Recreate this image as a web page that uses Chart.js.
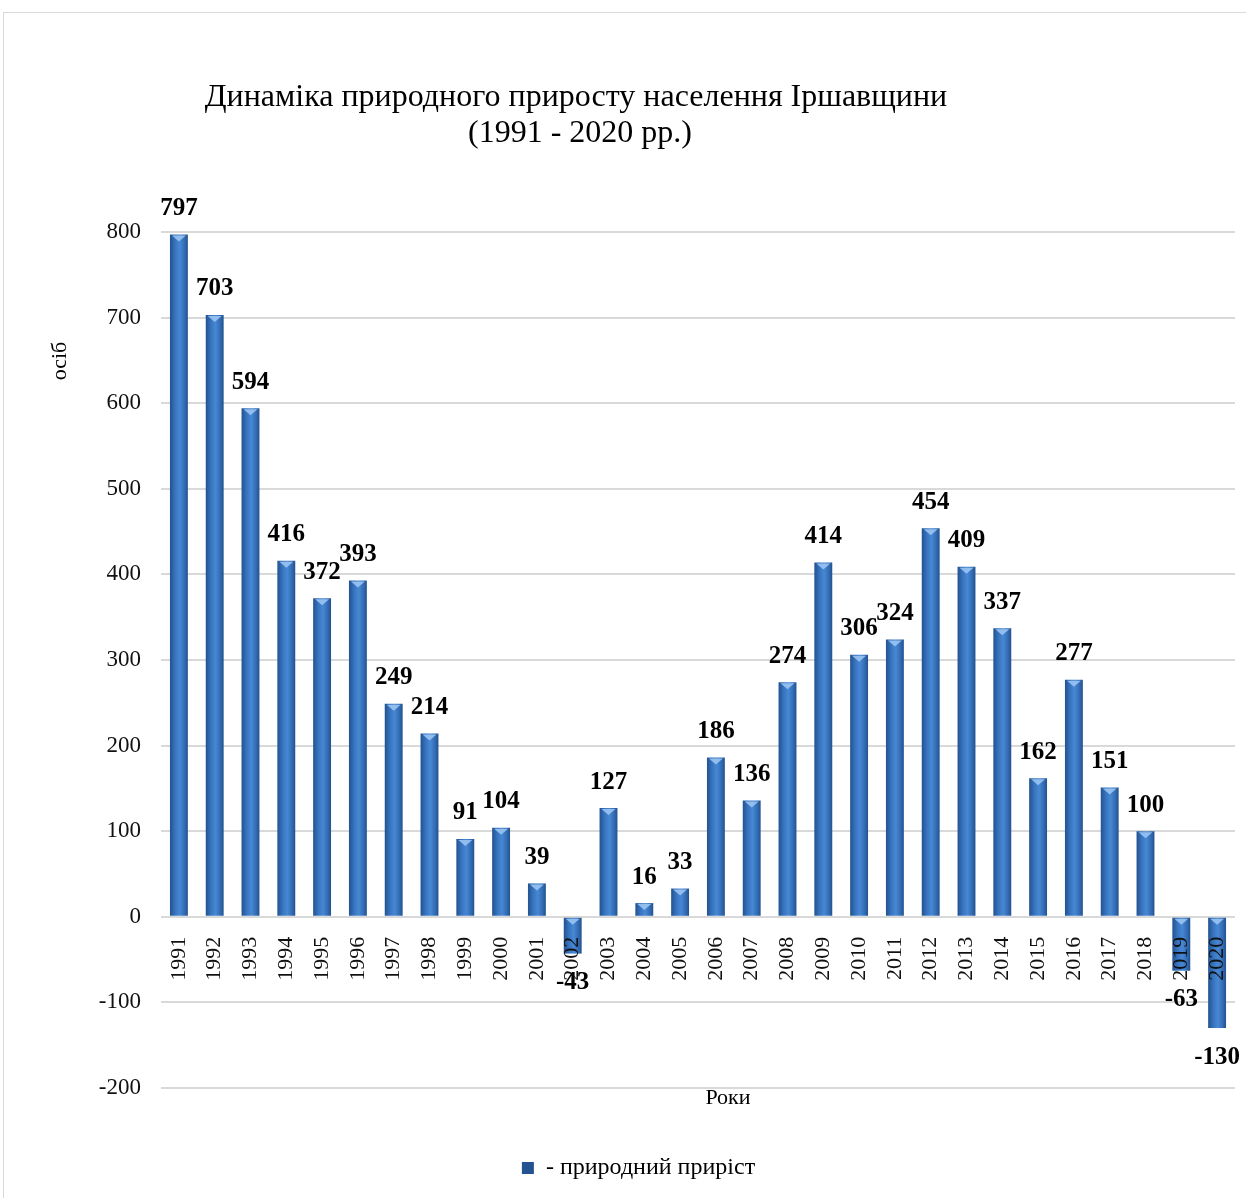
<!DOCTYPE html>
<html>
<head>
<meta charset="utf-8">
<script src="https://cdn.jsdelivr.net/npm/chart.js@4"></script>
<style>
  body { margin: 0; background: #fff; overflow: hidden; }
  #ramka { position: absolute; left: 3px; top: 12px; width: 1400px; height: 1400px; border: 1px solid #d9d9d9; }
  #holder { position: absolute; left: 0; top: 0; width: 1246px; height: 1198px; }
</style>
</head>
<body>
<div id="ramka"></div>
<div id="holder"><canvas id="grafik" width="1246" height="1198"></canvas></div>
<script>
// podaci sa slike
const roky = ["1991","1992","1993","1994","1995","1996","1997","1998","1999","2000",
  "2001","2002","2003","2004","2005","2006","2007","2008","2009","2010",
  "2011","2012","2013","2014","2015","2016","2017","2018","2019","2020"];
const pryrist = [797, 703, 594, 416, 372, 393, 249, 214, 91, 104,
  39, -43, 127, 16, 33, 186, 136, 274, 414, 306,
  324, 454, 409, 337, 162, 277, 151, 100, -63, -130];
const nazvaRyadky = ["Динаміка природного приросту населення Іршавщини", "(1991 - 2020 рр.)"];
const nazvaSerii = "- природний приріст";
const osY = "осіб";
const osX = "Роки";

const serif = "'Liberation Serif', 'Times New Roman', serif";

// gradijent za svaki stubac
function bojaStupca(c) {
  const chart = c.chart;
  const x = chart.scales.x;
  if (c.dataIndex === undefined || !x || !chart.chartArea) return "#2f6db5";
  const cx = x.getPixelForValue(c.dataIndex);
  const w = (x.width / roky.length) * 0.5;
  const g = chart.ctx.createLinearGradient(cx - w / 2, 0, cx + w / 2, 0);
  g.addColorStop(0, "#22528f");
  g.addColorStop(0.3, "#3875c1");
  g.addColorStop(0.55, "#4788d3");
  g.addColorStop(0.8, "#346db6");
  g.addColorStop(1, "#22528f");
  return g;
}

// tekstovi: naslov, ose, vrijednosti iznad stubaca
const tekstovi = {
  id: "tekstovi",
  afterDatasetsDraw(chart) {
    const ctx = chart.ctx;
    const meta = chart.getDatasetMeta(0);
    const area = chart.chartArea;
    ctx.save();
    // kapica na vrhu stupca
    meta.data.forEach((el) => {
      const top = Math.min(el.y, el.base);
      const w = el.width;
      ctx.fillStyle = "rgba(160,200,245,0.85)";
      ctx.beginPath();
      ctx.moveTo(el.x - w / 2 + 2, top + 1);
      ctx.lineTo(el.x + w / 2 - 2, top + 1);
      ctx.lineTo(el.x, top + 7);
      ctx.closePath();
      ctx.fill();
    });
    // vrijednosti
    ctx.fillStyle = "#000";
    ctx.font = "bold 25px " + serif;
    ctx.textAlign = "center";
    ctx.textBaseline = "middle";
    meta.data.forEach((el, i) => {
      const v = pryrist[i];
      const y = v >= 0 ? el.y - 26 : el.y + 29;
      ctx.fillText(String(v), el.x, y);
    });
    // naslov
    ctx.font = "32px " + serif;
    ctx.fillText(nazvaRyadky[0], 576, 98);
    ctx.fillText(nazvaRyadky[1], 580, 134);
    // naziv ose X
    ctx.font = "22px " + serif;
    ctx.fillText(osX, 728, area.bottom + 10);
    // naziv ose Y
    ctx.translate(60, 361);
    ctx.rotate(-Math.PI / 2);
    ctx.fillText(osY, 0, 0);
    ctx.restore();
  },
};

new Chart(document.getElementById("grafik"), {
  type: "bar",
  data: {
    labels: roky,
    datasets: [
      {
        label: nazvaSerii,
        data: pryrist,
        backgroundColor: bojaStupca,
        borderWidth: 0,
        barPercentage: 0.5,
        categoryPercentage: 1,
        xAxisID: "x",
      },
    ],
  },
  options: {
    responsive: false,
    animation: false,
    layout: { padding: { top: 232, left: 42, right: 11, bottom: 8 } },
    plugins: {
      tooltip: { enabled: false },
      legend: {
        position: "bottom",
        labels: {
          color: "#000",
          font: { family: serif, size: 24 },
          boxWidth: 12,
          boxHeight: 12,
          padding: 10,
        },
      },
    },
    scales: {
      x: {
        type: "category",
        position: { y: 0 },
        z: 1,
        afterFit(scale) { scale.paddingLeft = 0; scale.paddingRight = 0; },
        grid: { display: false },
        border: { display: false },
        ticks: {
          z: 1,
          autoSkip: false,
          minRotation: 90,
          maxRotation: 90,
          padding: 12,
          color: "#111",
          font: { family: serif, size: 22 },
        },
      },
      // prazna osa kao razmak izmedju grafa i legende
      x2: {
        type: "category",
        position: "bottom",
        afterFit(scale) { scale.height = 58; scale.paddingLeft = 0; scale.paddingRight = 0; },
        grid: { display: false, drawTicks: false },
        border: { display: false },
        ticks: { display: false },
      },
      y: {
        min: -200,
        max: 800,
        afterFit(scale) { scale.width = 119; },
        grid: { color: "#d9d9d9", lineWidth: 2, drawTicks: false },
        border: { display: false },
        ticks: {
          stepSize: 100,
          padding: 20,
          color: "#111",
          font: { family: serif, size: 23 },
        },
      },
    },
  },
  plugins: [tekstovi],
});
</script>
</body>
</html>
